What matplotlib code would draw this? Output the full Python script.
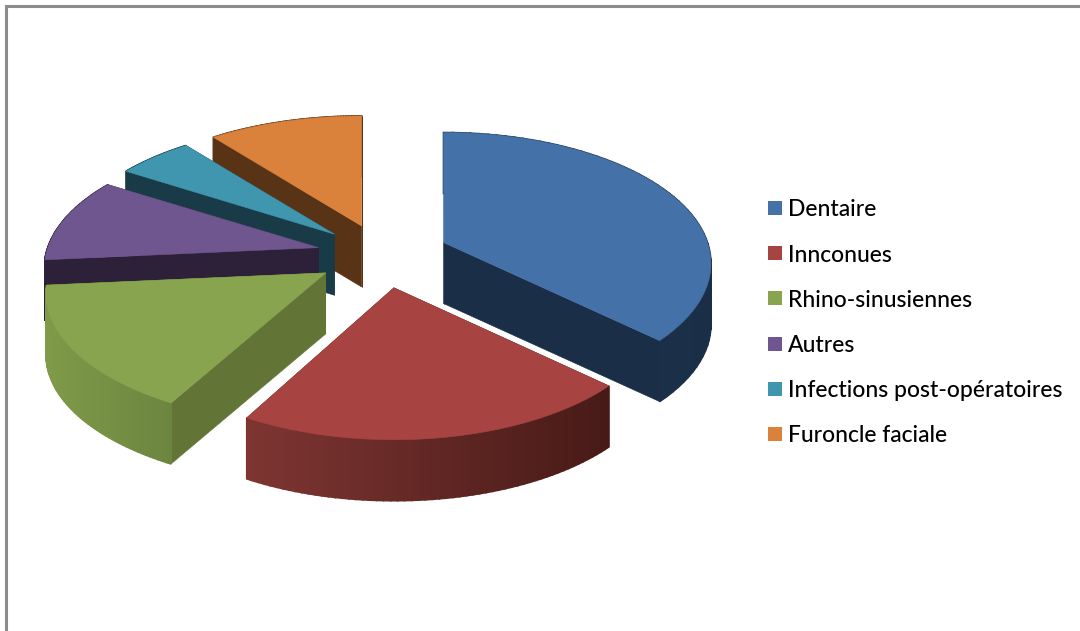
import numpy as np
import matplotlib
matplotlib.use("Agg")
import matplotlib.pyplot as plt
from matplotlib.colors import to_rgb
from matplotlib.patches import Polygon, Rectangle

# Chart data: share of each origin, in percent
categories = ["Dentaire", "Innconues", "Rhino-sinusiennes", "Autres",
              "Infections post-opératoires", "Furoncle faciale"]
shares = [37, 21, 15.5, 10.5, 5.3, 10.7]

top_colors = ["#4472A8", "#A74442", "#88A44E", "#70568F", "#3F96AE", "#DA813B"]
radial_colors = ["#1A2E47", "#4A1B18", "#627537", "#2D2139", "#193B48", "#593316"]
rim_left_colors = ["#1E3553", "#7E3532", "#7F9A48", "#2D2139", "#193B48", "#593316"]
rim_right_colors = ["#1A2E47", "#471A17", "#6C8540", "#2D2139", "#193B48", "#593316"]

# Projection of the tilted pie onto the page, in pixels
CENTER = (383.0, 255.0)
RADIUS_X, RADIUS_Y = 268.0, 127.6
SLICE_WIDTH = [0.985, 0.98, 1.03, 1.01, 1.0, 1.0]
PERSPECTIVE = 0.16
EXPLODE = 0.25
DEPTH = 61.0


def project(x, y, origin, width=1.0):
    w = 1 + PERSPECTIVE * y
    return origin[0] + RADIUS_X * width * x / w, origin[1] - RADIUS_Y * y / w


fig = plt.figure(figsize=(10.8, 6.31), dpi=100, facecolor="white")
ax = fig.add_axes([0, 0, 1, 1])
ax.set_xlim(0, 1080)
ax.set_ylim(631, 0)
ax.axis("off")

# Chart frame: only the top and left edges fall inside the canvas
ax.plot([6, 6, 1080], [631, 6, 6], color="#8C8C8C", lw=2.2, solid_joinstyle="miter")

bounds = np.concatenate([[0], np.cumsum(shares)]) / np.sum(shares) * 2 * np.pi


def draw_slice(i):
    a0, a1 = bounds[i], bounds[i + 1]
    mid = (a0 + a1) / 2
    apex = project(EXPLODE * np.sin(mid), EXPLODE * np.cos(mid), CENTER)
    theta = np.linspace(a0, a1, 60)
    rim = np.array([project(np.sin(t), np.cos(t), apex, SLICE_WIDTH[i]) for t in theta])
    corners = [rim[0], rim[-1]]

    # Radial cut faces
    for c in corners:
        quad = [apex, c, (c[0], c[1] + DEPTH), (apex[0], apex[1] + DEPTH)]
        ax.add_patch(Polygon(quad, closed=True, fc=radial_colors[i], ec=radial_colors[i], lw=0.4))

    # Outer wall, shaded strip by strip from its left end to its right end
    left, right = np.array(to_rgb(rim_left_colors[i])), np.array(to_rgb(rim_right_colors[i]))
    xmin, xmax = rim[:, 0].min(), rim[:, 0].max()
    for p, q in zip(rim[:-1], rim[1:]):
        f = ((p[0] + q[0]) / 2 - xmin) / max(xmax - xmin, 1)
        col = left + (right - left) * f
        quad = [p, q, (q[0], q[1] + DEPTH), (p[0], p[1] + DEPTH)]
        ax.add_patch(Polygon(quad, closed=True, fc=col, ec=col, lw=1.2))

    # Top face
    ax.add_patch(Polygon(np.vstack([[apex], rim]), closed=True,
                         fc=top_colors[i], ec=top_colors[i], lw=0.4))


# Back slices first so the nearer ones overlap them
for i in [5, 4, 3, 2, 0, 1]:
    draw_slice(i)

# Legend
legend_y = np.linspace(208, 434, len(categories))
for name, col, y in zip(categories, top_colors, legend_y):
    ax.add_patch(Rectangle((768, y - 7), 14, 14, fc=col, ec="none"))
    ax.text(788, y, name, family="Lato", fontsize=16.45, color="black",
            va="center_baseline", ha="left", fontweight="medium")

fig.savefig("out.png", dpi=100, facecolor="white")
